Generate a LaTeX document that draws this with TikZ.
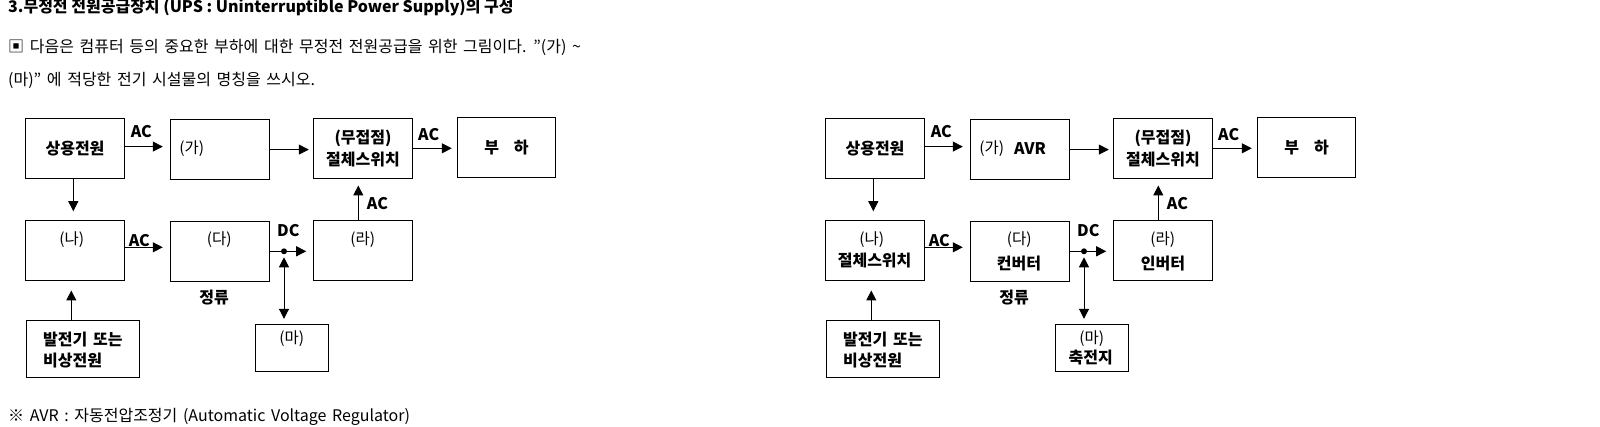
\documentclass[tikz,border=0pt]{standalone}
\usepackage{fontspec}
\setmainfont{Noto Sans CJK KR}[WordSpace=1.57]
\newfontfamily\titlefont{Noto Sans CJK KR}
\usetikzlibrary{arrows.meta}
\tikzset{
  box/.style={draw, line width=1pt, inner sep=0pt, minimum width=99.4pt, minimum height=60pt,
    align=center, font=\fontsize{16}{21.7}\selectfont\bfseries},
  arr/.style={line width=1pt, -{Triangle[length=10pt,width=10pt]}},
  darr/.style={line width=1pt, {Triangle[length=10pt,width=10pt]}-{Triangle[length=10pt,width=10pt]}},
  blab/.style={inner sep=0pt, font=\fontsize{16}{18}\selectfont\bfseries},
  rlab/.style={inner sep=0pt, font=\fontsize{15.5}{17}\selectfont},
  txt/.style={inner sep=0pt, anchor=west, font=\fontsize{16}{18}\selectfont},
}
\newcommand\upsdiag[1]{%
  \node[box] (#1A) at (75,148.3) {상용전원};
  \node[box, minimum width=99pt] (#1B) at (219.8,149.3) {};
  \node[box] (#1C) at (363,148.3) {(무접점)\\절체스위치};
  \node[box, minimum width=98.4pt] (#1D) at (506.5,147.3) {부\hspace{15pt}하};
  \node[box] (#1E) at (75,250.3) {};
  \node[box, minimum width=99pt] (#1F) at (219.8,251.3) {};
  \node[box] (#1G) at (363,250.3) {};
  \node[box, minimum width=113pt, minimum height=57pt] (#1H) at (82.8,348.8) {};
  \node[box, minimum width=73.4pt, minimum height=47pt] (#1I) at (292,347.8) {};
  \coordinate (#1dot) at (284,251.3);
  % labels inside boxes
  \node[rlab] (#1ga) at (191.7,148.3) {(가)};
  \node[rlab] (#1na) at (71.7,239.3) {(나)};
  \node[rlab] (#1da) at (219.3,239.3) {(다)};
  \node[rlab] (#1ra) at (362.7,239.3) {(라)};
  \node[rlab] (#1ma) at (291.7,338.3) {(마)};
  \node[blab, anchor=west] (#1gen1) at (43,339.3) {발전기 또는};
  \node[blab, anchor=west] (#1gen2) at (43,360.7) {비상전원};
  % connector labels
  \node[blab] (#1ac1) at (141.3,131.7) {AC};
  \node[blab] (#1ac2) at (428.7,134.3) {AC};
  \node[blab] (#1ac3) at (377.5,203.3) {AC};
  \node[blab] (#1ac4) at (139.3,240.7) {AC};
  \node[blab] (#1dc) at (288.3,230.7) {DC};
  \node[blab] (#1jr) at (214,297.7) {정류};
  % connectors
  \draw[arr, shorten >=7pt] ([yshift=1.7pt]#1A.east) -- ([yshift=1.7pt]#1A.east -| #1B.west);
  \draw[arr, shorten >=4pt] ([yshift=-0.3pt]#1B.east) -- ([yshift=-0.3pt]#1B.east -| #1C.west);
  \draw[arr, shorten >=5pt] (#1C.east) -- (#1C.east -| #1D.west);
  \draw[arr, shorten >=8.6pt] ([xshift=-1.7pt]#1A.south) -- ([xshift=-1.7pt]#1E.north);
  \draw[arr, shorten >=7pt] ([yshift=3pt]#1E.east) -- ([yshift=3pt]#1E.east -| #1F.west);
  \draw[arr, shorten >=6.6pt] (#1F.east) -- (#1F.east -| #1G.west);
  \draw[darr, shorten <=6pt, shorten >=5pt] (#1dot) -- (#1dot |- #1I.north);
  \fill (#1dot) circle (3pt);
  \draw[arr, shorten >=6.7pt] ([xshift=-4.7pt]#1G.north) -- ([xshift=-4.7pt]#1C.south);
  \draw[arr, shorten >=9.7pt] ([xshift=-11.5pt]#1H.north) -- ([xshift=-3.7pt]#1E.south);
}
\begin{document}
\begin{tikzpicture}[x=1pt,y=-1pt]
\useasboundingbox (0,0) rectangle (1600,427);
\node[txt, font=\fontsize{16}{18}\selectfont\titlefont\bfseries] (title) at (8,7.5) {3.무정전 전원공급장치 (UPS : Uninterruptible Power Supply)의 구성};
\node[txt] (q1) at (8,47) {▣ 다음은 컴퓨터 등의 중요한 부하에 대한 무정전 전원공급을 위한 그림이다. "(가) \textasciitilde};
\node[txt] (q2) at (8,80) {(마)" 에 적당한 전기 시설물의 명칭을 쓰시오.};
\node[txt] (note) at (8,417) {※ AVR : 자동전압조정기 (Automatic Voltage Regulator)};
\begin{scope}
  \upsdiag{L}
\end{scope}
\begin{scope}[xshift=800pt]
  \upsdiag{R}
  \node[blab] (Ravr) at (230,148.3) {AVR};
  \node[blab] (Rsw) at (74.6,260.7) {절체스위치};
  \node[blab] (Rconv) at (219,264) {컨버터};
  \node[blab] (Rinv) at (363,264) {인버터};
  \node[blab] (Rbat) at (290.7,357.7) {축전지};
\end{scope}
\end{tikzpicture}
\end{document}
